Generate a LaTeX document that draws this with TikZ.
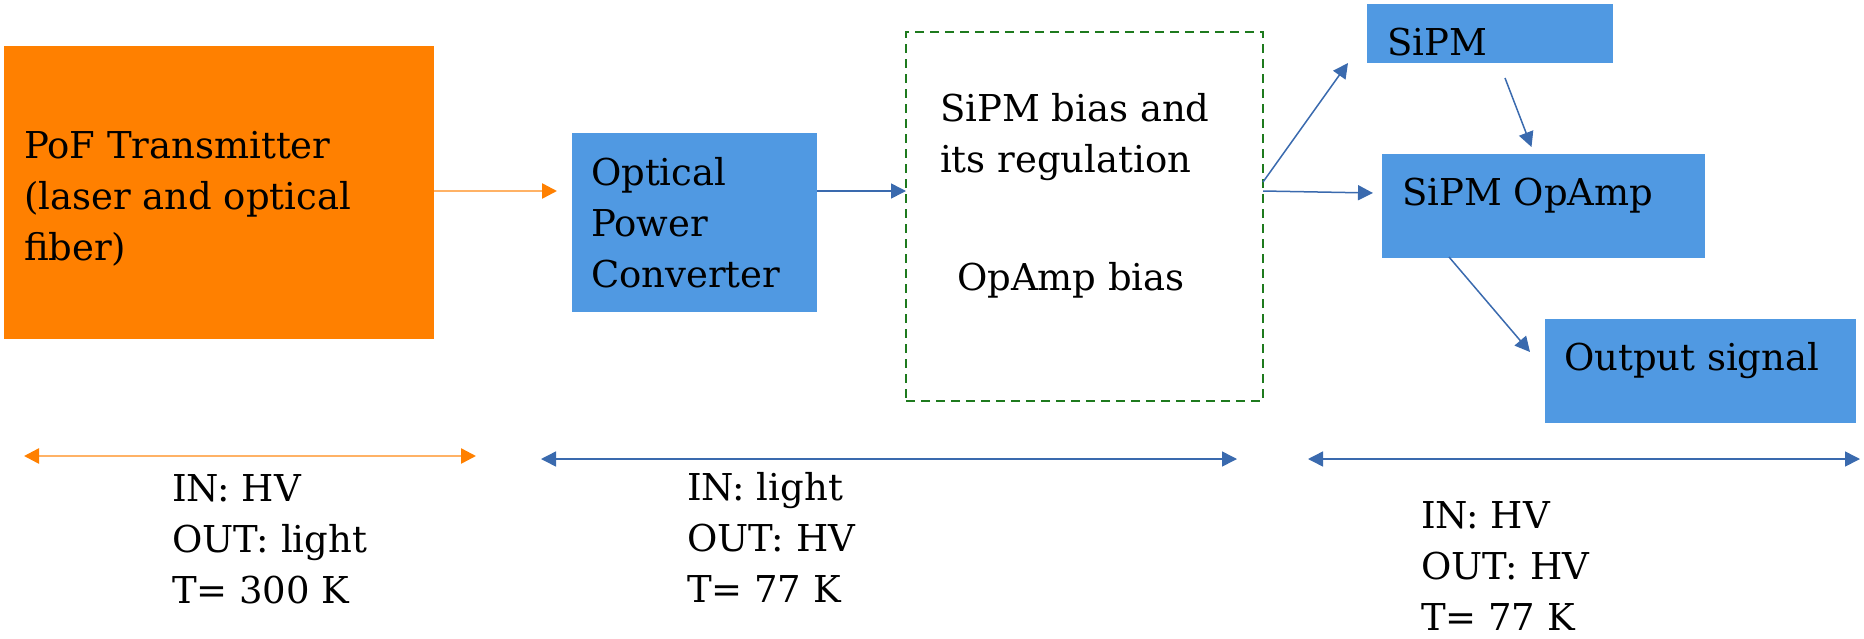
\documentclass[tikz,border=0pt]{standalone}
\usepackage{fontspec}
\setmainfont{DejaVu Serif}
\newfontfamily\lserif{DejaVu Serif}
\usetikzlibrary{arrows.meta,calc}
\definecolor{boxorange}{HTML}{FF8000}
\definecolor{lineorange}{HTML}{FFB266}
\definecolor{boxblue}{HTML}{5099E2}
\definecolor{lineblue}{HTML}{3A6AAE}
\definecolor{dashgreen}{HTML}{1E7A1E}
\tikzset{
  blk/.style={draw=none,inner sep=0pt,outer sep=0pt},
  lbl/.style={anchor=base west,inner sep=0pt,outer sep=0pt,align=left,
    font=\lserif\fontsize{37}{51}\selectfont},
  bconn/.style={draw=lineblue,line width=1.5pt,-{Triangle[length=15pt,width=15pt,fill=lineblue]}},
  oconn/.style={draw=lineorange,line width=2.5pt,-{Triangle[length=15pt,width=15pt,color=boxorange]}},
}
\begin{document}
\begin{tikzpicture}[x=1pt,y=-1pt]
\useasboundingbox (0,0) rectangle (1864,638);
% boxes
\path[fill=boxorange] (4,46) rectangle (434,339);
\node[blk,minimum width=430pt,minimum height=293pt] (tx) at (219,192.5) {};
\path[fill=boxblue] (572,133) rectangle (817,312);
\node[blk,minimum width=245pt,minimum height=179pt] (conv) at (694.5,222.5) {};
\node[blk,draw=dashgreen,line width=2pt,dash pattern=on 9pt off 6pt,minimum width=357pt,minimum height=369pt] (bias) at (1084.5,216.5) {};
\path[fill=boxblue] (1367,4) rectangle (1613,63);
\node[blk,minimum width=246pt,minimum height=59pt] (sipm) at (1490,33.5) {};
\path[fill=boxblue] (1382,154) rectangle (1705,258);
\node[blk,minimum width=323pt,minimum height=104pt] (amp) at (1543.5,206) {};
\path[fill=boxblue] (1545,319) rectangle (1856,423);
\node[blk,minimum width=311pt,minimum height=104pt] (out) at (1700.5,371) {};
% texts (base anchor = baseline of the last line)
\node[lbl] (txt1) at (24,260) {PoF Transmitter\\(laser and optical\\fiber)};
\node[lbl] (txt2) at (591,287) {Optical\\Power\\Converter};
\node[lbl] (txt3) at (940,172) {SiPM bias and\\its regulation};
\node[lbl] (txt4) at (957,290) {OpAmp bias};
\node[lbl] (txt5) at (1387,55) {SiPM};
\node[lbl] (txt6) at (1402,205) {SiPM OpAmp};
\node[lbl] (txt7) at (1564,370) {Output signal};
\node[lbl] (txt8) at (172,603) {IN: HV\\OUT: light\\T= 300 K};
\node[lbl] (txt9) at (687,602) {IN: light\\OUT: HV\\T= 77 K};
\node[lbl] (txt10) at (1421,630) {IN: HV\\OUT: HV\\T= 77 K};
% connectors
\coordinate (ya) at (0,191);
\coordinate (yb) at (0,182);
\draw[oconn] (tx.east |- ya) -- ($(conv.west |- ya)+(-15,0)$);
\draw[bconn] (conv.east |- ya) -- (bias.west |- ya);
\draw[bconn] (bias.east |- yb) -- ($(sipm.south west)+(-19,0)$);
\draw[bconn] (bias.east |- ya) -- ($(amp.west)+(-9,-13)$);
\draw[bconn] ($(sipm.south)+(15,15)$) -- ($(amp.north)+(-12,-7)$);
\draw[bconn] ($(amp.south west)+(67,-1)$) -- ($(out.west)+(-15,-19)$);
% range arrows
\coordinate (r1a) at (24,456);
\coordinate (r1b) at (476,456);
\coordinate (r2a) at (541,459);
\coordinate (r2b) at (1237,459);
\coordinate (r3a) at (1308,459);
\coordinate (r3b) at (1860,459);
\draw[draw=lineorange,line width=2.5pt,{Triangle[length=15pt,width=15pt,color=boxorange]}-{Triangle[length=15pt,width=15pt,color=boxorange]}] (r1a) -- (r1b);
\draw[draw=lineblue,line width=1.5pt,{Triangle[length=15pt,width=15pt]}-{Triangle[length=15pt,width=15pt]}] (r2a) -- (r2b);
\draw[draw=lineblue,line width=1.5pt,{Triangle[length=15pt,width=15pt]}-{Triangle[length=15pt,width=15pt]}] (r3a) -- (r3b);
\end{tikzpicture}
\end{document}
